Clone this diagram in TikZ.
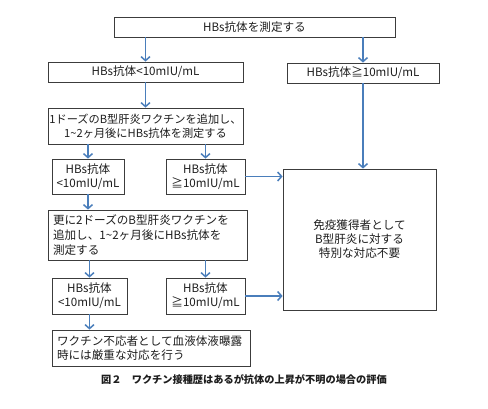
\documentclass[tikz,border=0pt]{standalone}
\usepackage{fontspec}
\setmainfont{Noto Sans CJK JP}
\usetikzlibrary{arrows.meta,calc}
\definecolor{arrowblue}{HTML}{4A7EBB}
\definecolor{boxgray}{HTML}{3C3C3C}
\definecolor{txt}{HTML}{1E1E1E}
\begin{document}
\begin{tikzpicture}[x=1pt,y=-1pt,
  box/.style={draw=boxgray,line width=0.8pt,inner sep=0pt,text=txt,font=\fontsize{11.6}{14}\selectfont},
  arr/.style={draw=arrowblue,line width=1.5pt,-{Straight Barb[length=4pt,width=9pt]}}]
\useasboundingbox[fill=white] (0,0) rectangle (488,408);
% boxes
\node[box,minimum width=281pt,minimum height=20pt] (top) at (254.5,27) {HBs抗体を測定する};
\node[box,minimum width=195pt,minimum height=20pt] (lt) at (145.5,72) {HBs抗体<10mIU/mL};
\node[box,minimum width=152pt,minimum height=20pt] (rt) at (363,73) {HBs抗体≧10mIU/mL};
\node[box,minimum width=195pt,minimum height=36pt,align=center,font=\fontsize{11.2}{14}\selectfont] (dose1) at (145.5,126) {1ドーズのB型肝炎ワクチンを追加し、\\1\textasciitilde2ヶ月後にHBs抗体を測定する};
\node[box,minimum width=72pt,minimum height=35pt,align=center] (s1l) at (88,176.5) {HBs抗体\\<10mIU/mL};
\node[box,minimum width=79pt,minimum height=35pt,align=center] (s1r) at (205.5,176.5) {HBs抗体\\≧10mIU/mL};
\node[box,minimum width=199pt,minimum height=50pt,align=left,text width=189pt,inner xsep=5pt,font=\fontsize{11.6}{15}\selectfont] (sara) at (147.5,235) {更に2ドーズのB型肝炎ワクチンを\\追加し、1\textasciitilde2ヶ月後にHBs抗体を\\測定する};
\node[box,minimum width=75pt,minimum height=36pt,align=center] (s2l) at (89.5,296) {HBs抗体\\<10mIU/mL};
\node[box,minimum width=79pt,minimum height=36pt,align=center] (s2r) at (205.5,296) {HBs抗体\\≧10mIU/mL};
\node[box,minimum width=198pt,minimum height=36pt,align=left,text width=188pt,inner xsep=5pt] (wak) at (151,348) {ワクチン不応者として血液体液曝露\\時には厳重な対応を行う};
\node[box,minimum width=153pt,minimum height=141pt,align=center] (big) at (359.5,239.5) {免疫獲得者として\\B型肝炎に対する\\特別な対応不要};
% caption
\node[font=\bfseries\fontsize{10.2}{12}\selectfont,text=txt] (cap) at (244,380) {図２　ワクチン接種歴はあるが抗体の上昇が不明の場合の評価};
% arrows
\draw[arr] (top.south -| lt.north) -- (lt.north);
\draw[arr] (top.south -| rt.north) -- (rt.north);
\draw[arr] (lt.south) -- (dose1.north);
\draw[arr] (rt.south) -- (rt.south |- big.north);
\draw[arr] (dose1.south -| s1l.north) -- (s1l.north);
\draw[arr] (dose1.south -| s1r.north) -- (s1r.north);
\draw[arr] (s1r.east) -- (s1r.east -| big.west);
\draw[arr] (s1l.south) -- (s1l.south |- sara.north);
\draw[arr] (sara.south -| s2l.north) -- (s2l.north);
\draw[arr] (sara.south -| s2r.north) -- (s2r.north);
\draw[arr] (s2r.east) -- (s2r.east -| big.west);
\draw[arr] (s2l.south) -- (s2l.south |- wak.north);
\end{tikzpicture}
\end{document}
